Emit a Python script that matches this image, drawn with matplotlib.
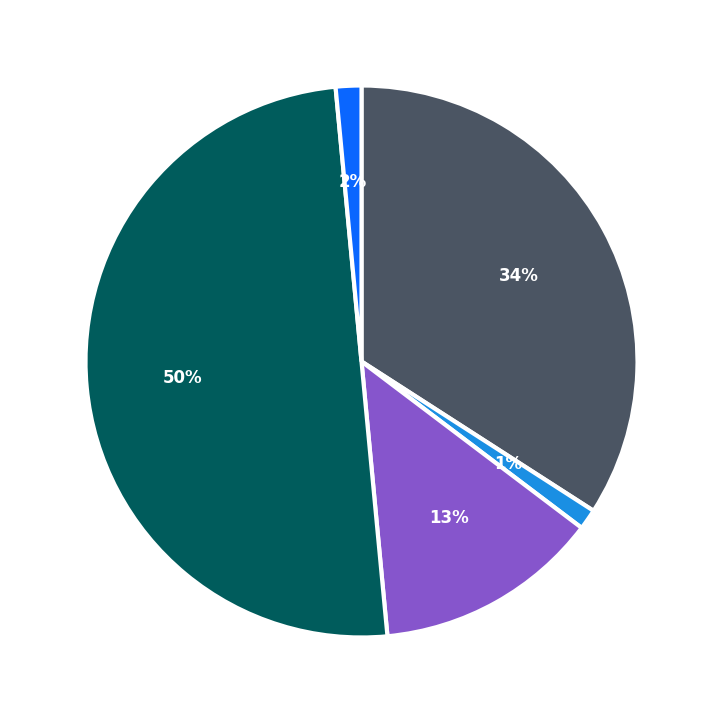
import matplotlib.pyplot as plt

# slice shares, clockwise from 12 o'clock
labels = ["A", "B", "C", "D", "E"]
values = [34.1, 1.2, 13.2, 50.0, 1.5]
colors = ["#4b5563", "#1a8fe3", "#8655cc", "#005c5c", "#0a66ff"]

fig = plt.figure(figsize=(7.23, 7.23), dpi=100)
r = 276 / 723
ax = fig.add_axes([0.5 - r, 0.5 - r, 2 * r, 2 * r])
wedges, texts, autotexts = ax.pie(
    values, colors=colors, startangle=90, counterclock=False,
    autopct="%.0f%%", pctdistance=0.65, radius=1,
    wedgeprops=dict(edgecolor="white", linewidth=3),
    textprops=dict(color="white", fontsize=12, fontweight="bold"),
)
ax.set_xlim(-1, 1)
ax.set_ylim(-1, 1)
ax.set_aspect("equal")
fig.savefig("out.png", dpi=100)
